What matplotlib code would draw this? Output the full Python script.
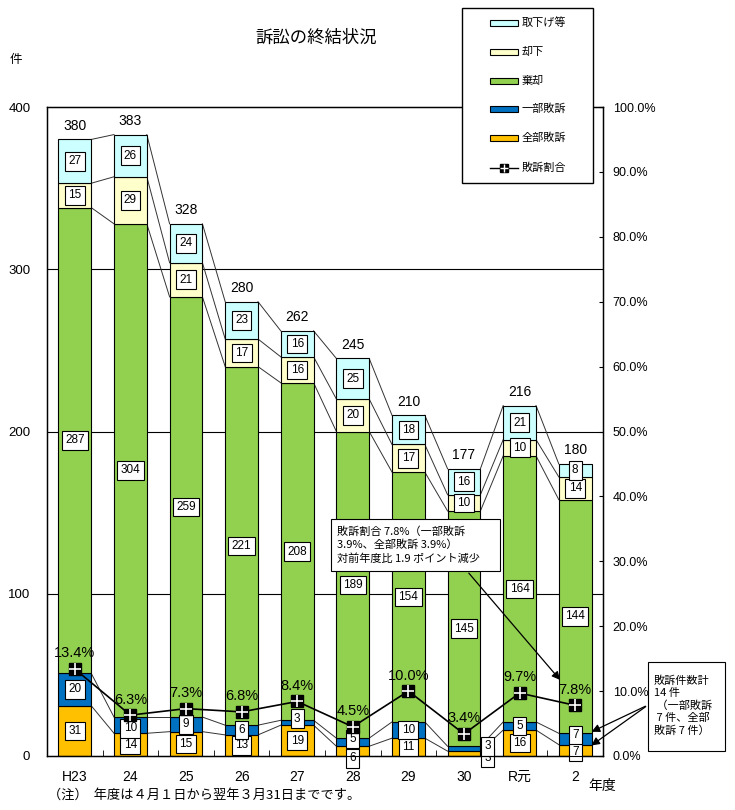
import numpy as np
import matplotlib
matplotlib.use("Agg")
import matplotlib.pyplot as plt
from matplotlib.patches import Rectangle
from matplotlib.lines import Line2D

plt.rcParams['font.family'] = ['Liberation Sans', 'Noto Sans CJK JP', 'DejaVu Sans']
JP = ['Noto Sans CJK JP', 'DejaVu Sans']

# ---- datos ----
years = ["H23", "24", "25", "26", "27", "28", "29", "30", "R元", "2"]
zenbu = [31, 14, 15, 13, 19, 6, 11, 3, 16, 7]          # 全部敗訴
ichibu = [20, 10, 9, 6, 3, 5, 10, 3, 5, 7]              # 一部敗訴
kikyaku = [287, 304, 259, 221, 208, 189, 154, 145, 164, 144]  # 棄却
kyakka = [15, 29, 21, 17, 16, 20, 17, 10, 10, 14]       # 却下
torisage = [27, 26, 24, 23, 16, 25, 18, 16, 21, 8]      # 取下げ等
haiso_rate = [13.4, 6.3, 7.3, 6.8, 8.4, 4.5, 10.0, 3.4, 9.7, 7.8]  # 敗訴割合 (%)

series = [("全部敗訴", zenbu, "#FFC000"),
          ("一部敗訴", ichibu, "#0070C0"),
          ("棄却", kikyaku, "#92D050"),
          ("却下", kyakka, "#FFFFCC"),
          ("取下げ等", torisage, "#CCFFFF")]

W, H = 735, 810


def px(x, y):
    # pixeles de la imagen -> coordenadas de figura
    return x / W, 1 - y / H


fig = plt.figure(figsize=(W / 100, H / 100), dpi=100)
ax = fig.add_axes([47 / W, 54 / H, 556 / W, 649 / H])
x = np.arange(len(years))
bw = 0.59

# ajustes de posicion de etiquetas chicas (serie, barra) -> (dx, dy)
nudge = {(0, 7): (0.42, -2.5), (1, 7): (0.42, 1.5), (1, 4): (0, 2.5),
         (1, 9): (0, 2.5), (0, 9): (0, -0.8), (1, 1): (0, -2.0),
         (1, 5): (0, 2.0), (0, 5): (0, -4.5)}

bottom = np.zeros(len(years))
levels = []
for si, (name, vals, col) in enumerate(series):
    vals = np.array(vals)
    ax.bar(x, vals, bw, bottom=bottom, color=col, edgecolor="black",
           linewidth=0.8, zorder=2)
    for i, v in enumerate(vals):
        dx, dy = nudge.get((si, i), (0, 0))
        ax.text(x[i] + dx, bottom[i] + v / 2 + dy, str(v), ha="center",
                va="center", fontsize=8.5, zorder=5,
                bbox=dict(boxstyle="square,pad=0.28", fc="white", ec="black", lw=0.8))
    bottom = bottom + vals
    levels.append(bottom.copy())

# lineas de serie entre barras
for lev in levels:
    for i in range(len(years) - 1):
        ax.plot([x[i] + bw / 2, x[i + 1] - bw / 2], [lev[i], lev[i + 1]],
                color="#333333", lw=0.7, zorder=1.5)

totals = levels[-1]
for i, t in enumerate(totals):
    ax.text(x[i], t + 4, "%d" % t, ha="center", va="bottom", fontsize=10)

for g in (100, 200, 300):
    ax.axhline(g, color="black", lw=0.8, zorder=0)

ax.set_xlim(-0.5, len(years) - 0.5)
ax.set_ylim(0, 400)
ax.set_yticks([0, 100, 200, 300, 400])
ax.tick_params(axis="y", length=0, pad=12, labelsize=9.5)
ax.set_xticks(x)
ax.set_xticklabels(years)
ax.set_xticks(np.arange(-0.5, len(years), 1), minor=True)
ax.tick_params(axis="x", which="major", length=0, pad=10, labelsize=10)
ax.tick_params(axis="x", which="minor", direction="in", length=4)
for s in ax.spines.values():
    s.set_linewidth(1.0)

# ---- eje derecho: 敗訴割合 ----
ax2 = ax.twinx()
ax2.set_ylim(0, 100)
ax2.set_yticks(range(0, 101, 10))
ax2.set_yticklabels(["%.1f%%" % v for v in range(0, 101, 10)])
ax2.tick_params(axis="y", direction="in", length=3, pad=7, labelsize=9)
ax2.plot(x, haiso_rate, color="black", lw=1.2, marker="s", ms=8,
         mfc="black", mec="black", zorder=3)
ax2.plot(x, haiso_rate, ls="none", marker="+", ms=8, mew=1.2, color="white", zorder=4)
for i, r in enumerate(haiso_rate):
    ax2.text(x[i], r + 2.4, "%.1f%%" % r, ha="center", va="center", fontsize=10.5)

# ---- textos ----
fig.text(*px(316, 38), "訴訟の終結状況", ha="center", va="center", fontsize=12.5, family=JP)
fig.text(*px(16, 60), "件", ha="center", va="center", fontsize=9, family=JP)
fig.text(*px(602, 786), "年度", ha="center", va="center", fontsize=10, family=JP)
fig.text(*px(48, 795), "（注）  年度は４月１日から翌年３月31日までです。",
         ha="left", va="center", fontsize=9.5, family=JP)

# ---- leyenda manual ----
lx0, ly0 = px(462, 183)
fig.add_artist(Rectangle((lx0, ly0), 131 / W, 175 / H, transform=fig.transFigure,
                         fc="white", ec="black", lw=1.0, zorder=10))
leg_y = [23, 52, 81, 109, 138]
for (name, vals, col), yy in zip(series[::-1], leg_y):
    rx, ry = px(490, yy + 3)
    fig.add_artist(Rectangle((rx, ry), 28 / W, 6 / H, transform=fig.transFigure,
                             fc=col, ec="black", lw=0.8, zorder=11))
    fig.text(*px(522, yy), name, ha="left", va="center", fontsize=8, zorder=11, family=JP)
lx1, yl = px(490, 168)
lx2, _ = px(518, 168)
fig.add_artist(Line2D([lx1, lx2], [yl, yl], transform=fig.transFigure,
                      color="black", lw=1.0, zorder=11))
fig.add_artist(Line2D([(lx1 + lx2) / 2], [yl], transform=fig.transFigure,
                      marker="s", ms=6, color="black", zorder=12))
fig.add_artist(Line2D([(lx1 + lx2) / 2], [yl], transform=fig.transFigure,
                      marker="+", ms=6, mew=1, color="white", zorder=13))
fig.text(*px(522, 168), "敗訴割合", ha="left", va="center", fontsize=8, zorder=11, family=JP)

# ---- anotaciones ----
bx, by = px(331, 571)
fig.add_artist(Rectangle((bx, by), 169 / W, 52 / H, transform=fig.transFigure,
                         fc="white", ec="black", lw=0.8, zorder=10))
fig.text(*px(337, 545), "敗訴割合 7.8%（一部敗訴\n3.9%、全部敗訴 3.9%）\n対前年度比 1.9 ポイント減少",
         ha="left", va="center", fontsize=8, linespacing=1.35, zorder=11, family=JP)
ax.annotate("", xy=(8.76, 45.6), xytext=(467, H - 571), textcoords="figure pixels",
            arrowprops=dict(arrowstyle="-|>", color="black", lw=0.9, mutation_scale=12),
            zorder=9)

cx, cy = px(648, 751)
fig.add_artist(Rectangle((cx, cy), 77 / W, 89 / H, transform=fig.transFigure,
                         fc="white", ec="black", lw=0.8, zorder=10))
fig.text(*px(654, 706), "敗訴件数計\n14 件\n （一部敗訴\n 7 件、全部\n敗訴 7 件）",
         ha="left", va="center", fontsize=8, linespacing=1.25, zorder=11, family=JP)
for ty in (14.2, 5.5):
    ax.annotate("", xy=(9.25, ty), xytext=(648, H - 705), textcoords="figure pixels",
                arrowprops=dict(arrowstyle="-|>", color="black", lw=0.9, mutation_scale=12),
                annotation_clip=False)

fig.savefig("out.png", dpi=100)
